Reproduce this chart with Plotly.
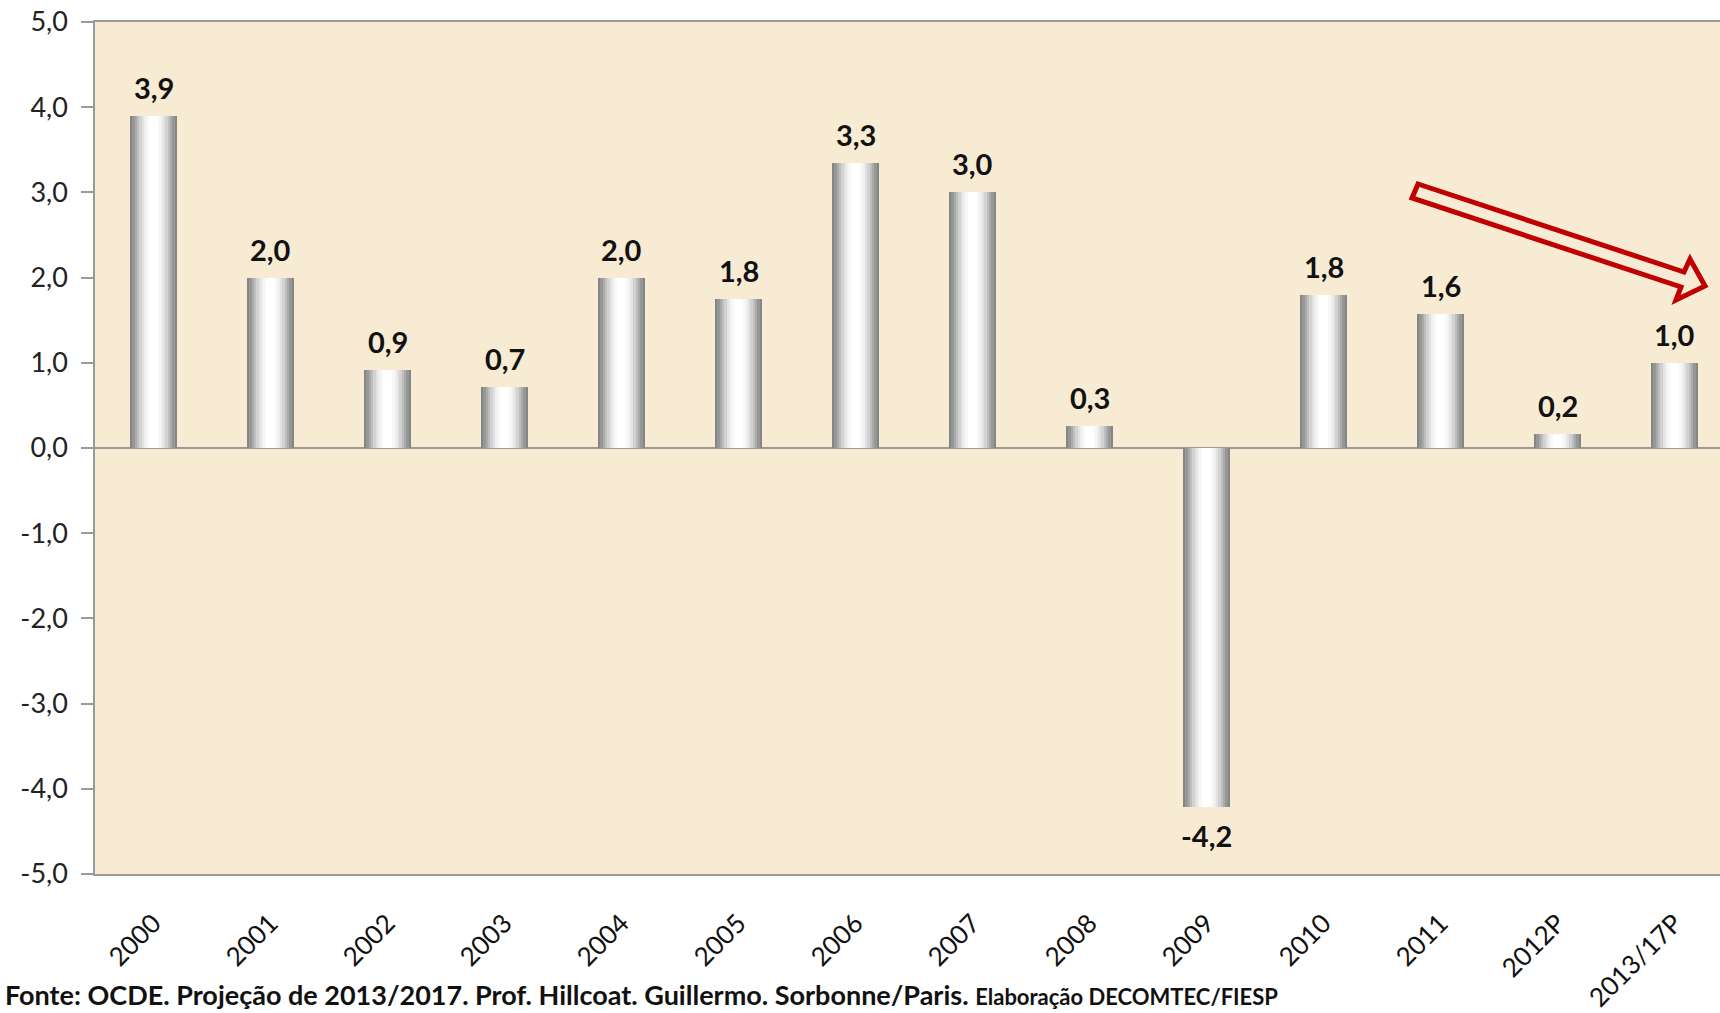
import plotly.graph_objects as go

categories = ["2000", "2001", "2002", "2003", "2004", "2005", "2006", "2007",
              "2008", "2009", "2010", "2011", "2012P", "2013/17P"]
values = [3.9, 2.0, 0.91, 0.72, 2.0, 1.75, 3.34, 3.0, 0.26, -4.21, 1.80, 1.57, 0.17, 1.0]
y_ticks = [-5, -4, -3, -2, -1, 0, 1, 2, 3, 4, 5]
y_tick_labels = ["-5,0", "-4,0", "-3,0", "-2,0", "-1,0", "0,0", "1,0", "2,0", "3,0", "4,0", "5,0"]
source_main = "Fonte: OCDE. Projeção de 2013/2017. Prof. Hillcoat. Guillermo. Sorbonne/Paris."
source_tail = "Elaboração DECOMTEC/FIESP"

W, H = 1720, 1013
ML, MT, MB = 95, 22, 139
PW, PH = W - ML, H - MT - MB
CAT_PX = 117.0
x_range = [-0.5, -0.5 + PW / CAT_PX]
xidx = list(range(len(categories)))

FONT = "Lato"

fig = go.Figure()

# layered bars to imitate a cylinder gradient
layers = [(1.00, "#858585"), (0.90, "#979797"), (0.80, "#aaaaaa"), (0.70, "#bebebe"),
          (0.60, "#d2d2d2"), (0.50, "#e2e2e2"), (0.40, "#eeeeee"), (0.30, "#f7f7f7"),
          (0.18, "#ffffff")]
BW = 0.40
for frac, col in layers:
    fig.add_trace(go.Bar(x=xidx, y=values, width=BW * frac,
                         marker=dict(color=col, line=dict(width=0)),
                         hoverinfo="skip", showlegend=False))

for i, v in zip(xidx, values):
    lab = f"{v:.1f}".replace(".", ",")
    fig.add_annotation(x=i, y=v, xref="x", yref="y", text=f"<b>{lab}</b>", showarrow=False,
                       yanchor="bottom" if v >= 0 else "top",
                       yshift=9 if v >= 0 else -9,
                       font=dict(family=FONT, size=29, color="#111111"))

# red hollow arrow (pixel geometry converted to paper coords)
pts = [(1418, 184), (1684, 272), (1690, 259), (1705, 286), (1676, 300), (1681, 287), (1412, 198)]
def px2paper(p):
    return ((p[0] - ML) / PW, (MT + PH - p[1]) / PH)
path = "M " + " L ".join(f"{px2paper(p)[0]:.5f},{px2paper(p)[1]:.5f}" for p in pts) + " Z"
fig.add_shape(type="path", path=path, xref="paper", yref="paper",
              line=dict(color="#C00000", width=5), fillcolor="rgba(0,0,0,0)")

# source note
fig.add_annotation(xref="paper", yref="paper", x=(3 - ML) / PW, y=(MT + PH - 1013) / PH,
                   xanchor="left", yanchor="bottom", showarrow=False, align="left",
                   text=f"<b>{source_main} <span style='font-size:22px'>{source_tail}</span></b>",
                   font=dict(family=FONT, size=27, color="#111111"))

fig.update_layout(
    width=W, height=H,
    margin=dict(l=ML, r=0, t=MT, b=MB, autoexpand=False),
    paper_bgcolor="white", plot_bgcolor="#F7EBD3",
    barmode="overlay", bargap=0,
    font=dict(family=FONT, color="#222222"),
    xaxis=dict(type="linear", range=x_range, tickvals=xidx, ticktext=categories,
               showgrid=False, zeroline=False,
               showline=True, mirror=True, linecolor="#9a9a9a", linewidth=1.5,
               tickangle=-45, ticks="", ticklabelstandoff=22,
               tickfont=dict(family=FONT, size=26, color="#111111"), automargin=False),
    yaxis=dict(range=[-5, 5], tickvals=y_ticks, ticktext=y_tick_labels, showgrid=False,
               zeroline=True, zerolinecolor="#9a9a9a", zerolinewidth=1.5,
               showline=True, linecolor="#9a9a9a", linewidth=1.5,
               ticks="outside", ticklen=12, tickcolor="#9a9a9a", tickwidth=1.5,
               ticklabelstandoff=8,
               tickfont=dict(family=FONT, size=27, color="#222222"), automargin=False),
)

fig.write_html("out.html")
